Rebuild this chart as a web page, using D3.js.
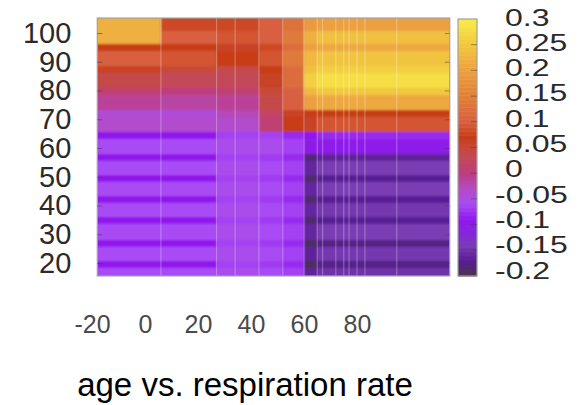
<!DOCTYPE html>
<html>
  <head>
    <script src="https://d3js.org/d3.v7.min.js"></script>
    <style>
      body{ margin: 0; background: #fff; }
      text{ font-family: "Liberation Sans", Arial, Helvetica, sans-serif; }
    </style>
  </head>
  <body>
    <svg id="chart" width=581 height=405></svg>
    <script>
      // axis ticks
      const xTicks = [-20, 0, 20, 40, 60, 80];
      const yTicks = [20, 30, 40, 50, 60, 70, 80, 90, 100];
      const cTicks = [-0.2, -0.15, -0.1, -0.05, 0, 0.05, 0.1, 0.15, 0.2, 0.25, 0.3];
      const cLabels = ["-0.2", "-0.15", "-0.1", "-0.05", "0", "0.05", "0.1", "0.15", "0.2", "0.25", "0.3"];

      // respiration rate column edges, age band edges (top to bottom)
      const rateEdges = [-18, 6, 27, 43, 52, 60, 65, 115];
      const ageEdges = [105.2, 100.7, 96.2, 93.7, 88.5, 86.1, 80.9, 78.4, 73.2, 70.8, 65.6, 63.1,
                        57.9, 55.5, 50.6, 48.2, 43.3, 40.9, 36.0, 33.6, 28.0, 25.6, 20.7, 18.3, 15.5];
      const gridRates = [6, 27, 34, 43, 52, 60, 65, 67, 72, 75, 77, 80, 83, 95];

      // partial dependence values per column, one per age band
      const colA  = [0.22, 0.22, 0.07, 0.1, 0.06, 0.04, 0.01, -0.01, -0.04, -0.035, -0.09, -0.06,
                     -0.09, -0.06, -0.09, -0.06, -0.09, -0.06, -0.09, -0.06, -0.09, -0.06, -0.09, -0.06];
      const colB  = [0.08, 0.1, 0.07, 0.09, 0.05, 0.03, 0.0, -0.015, -0.045, -0.035, -0.09, -0.06,
                     -0.09, -0.06, -0.09, -0.06, -0.09, -0.06, -0.09, -0.06, -0.09, -0.06, -0.09, -0.06];
      const colM1 = [0.08, 0.09, 0.06, 0.07, 0.04, 0.03, 0.01, -0.01, -0.025, -0.035, -0.065, -0.055,
                     -0.065, -0.055, -0.065, -0.055, -0.065, -0.055, -0.065, -0.055, -0.065, -0.055, -0.065, -0.055];
      const colM2 = [0.1, 0.1, 0.08, 0.09, 0.07, 0.06, 0.05, 0.04, 0.02, 0.01, -0.065, -0.055,
                     -0.07, -0.06, -0.07, -0.06, -0.07, -0.06, -0.07, -0.06, -0.07, -0.06, -0.07, -0.06];
      const colM3 = [0.13, 0.14, 0.12, 0.14, 0.12, 0.12, 0.1, 0.1, 0.06, 0.07, -0.08, -0.065,
                     -0.08, -0.065, -0.08, -0.065, -0.08, -0.065, -0.08, -0.065, -0.08, -0.065, -0.08, -0.065];
      const colR0 = [0.19, 0.22, 0.2, 0.23, 0.24, 0.26, 0.23, 0.2, 0.07, 0.06, -0.09, -0.1,
                     -0.18, -0.16, -0.185, -0.16, -0.185, -0.16, -0.185, -0.16, -0.19, -0.165, -0.19, -0.165];
      const colR  = [0.2, 0.24, 0.21, 0.245, 0.26, 0.28, 0.25, 0.21, 0.07, 0.09, -0.08, -0.095,
                     -0.165, -0.14, -0.17, -0.14, -0.17, -0.145, -0.17, -0.14, -0.175, -0.145, -0.175, -0.15];
      const columns = [colA, colB, colM1, colM2, colM3, colR0, colR];

      // palette
      const stopValues = [-0.2, -0.17, -0.14, -0.12, -0.09, -0.06, -0.03, 0, 0.03, 0.05, 0.07, 0.1, 0.15, 0.2, 0.25, 0.3];
      const stopColors = ["#483848", "#581c94", "#7a3cb4", "#8428d8", "#9018ec", "#a84cf4", "#b44cc4", "#be3c80",
                          "#c44858", "#c84838", "#c83c18", "#d86040", "#e08038", "#eca040", "#f2c840", "#f8ec48"];

      const svg = d3.select("#chart");

      const xScale = d3.scaleLinear().domain([-20, 80]).range([92, 357]);
      const yScale = d3.scaleLinear().domain([20, 100]).range([263, 33]);
      const color = d3.scaleLinear().domain(stopValues).range(stopColors)
                      .interpolate(d3.interpolateRgb).clamp(true);

      const plotLeft = xScale(rateEdges[0]), plotRight = xScale(rateEdges[rateEdges.length - 1]);
      const plotTop = yScale(ageEdges[0]), plotBottom = yScale(ageEdges[ageEdges.length - 1]);

      const defs = svg.append("defs");
      defs.append("filter").attr("id", "soft")
        .attr("x", "-5%").attr("y", "-5%").attr("width", "110%").attr("height", "110%")
        .append("feGaussianBlur").attr("stdDeviation", 1.3);
      defs.append("clipPath").attr("id", "plotClip")
        .append("rect").attr("x", plotLeft).attr("y", plotTop)
        .attr("width", plotRight - plotLeft).attr("height", plotBottom - plotTop);
      defs.append("clipPath").attr("id", "labelClip")
        .append("rect").attr("x", 0).attr("y", 8).attr("width", 581).attr("height", 400);

      // heatmap cells
      const cells = [];
      columns.forEach(function(vals, c) {
        vals.forEach(function(v, i) {
          cells.push({ r0: rateEdges[c], r1: rateEdges[c + 1], a0: ageEdges[i], a1: ageEdges[i + 1], v: v,
                       firstC: c === 0, lastC: c === columns.length - 1, firstR: i === 0, lastR: i === vals.length - 1 });
        });
      });

      const pad = 5;
      const heat = svg.append("g").attr("clip-path", "url(#plotClip)")
        .append("g").attr("filter", "url(#soft)");
      heat.selectAll("rect")
        .data(cells)
        .enter()
        .append("rect")
        .attr("x", d => xScale(d.r0) - (d.firstC ? pad : 0))
        .attr("y", d => yScale(d.a0) - (d.firstR ? pad : 0))
        .attr("width", d => xScale(d.r1) - xScale(d.r0) + 0.6 + (d.firstC ? pad : 0) + (d.lastC ? pad : 0))
        .attr("height", d => yScale(d.a1) - yScale(d.a0) + 0.6 + (d.firstR ? pad : 0) + (d.lastR ? pad : 0))
        .attr("fill", d => color(d.v));

      // faint column boundaries
      svg.append("g").attr("clip-path", "url(#plotClip)")
        .selectAll("line")
        .data(gridRates)
        .enter()
        .append("line")
        .attr("x1", d => xScale(d)).attr("x2", d => xScale(d))
        .attr("y1", plotTop).attr("y2", plotBottom)
        .attr("stroke", "#ffffff")
        .attr("stroke-opacity", 0.28)
        .attr("stroke-width", 1.2);

      // frame
      svg.append("rect")
        .attr("x", plotLeft).attr("y", plotTop)
        .attr("width", plotRight - plotLeft).attr("height", plotBottom - plotTop)
        .attr("fill", "none").attr("stroke", "#a0a0a0").attr("stroke-width", 1.2);

      // y axis (ticks point inward)
      const yAxis = svg.append("g")
        .attr("transform", "translate(" + plotLeft + ",0)")
        .call(d3.axisLeft(yScale).tickValues(yTicks).tickSizeInner(-5).tickSizeOuter(0).tickPadding(26).tickFormat(d3.format("d")));
      yAxis.select(".domain").remove();
      yAxis.selectAll("line").attr("stroke", "#444").attr("stroke-opacity", 0.6);
      yAxis.selectAll("text").attr("font-size", 29).attr("fill", "#2a2a2a");

      const yAxisR = svg.append("g")
        .attr("transform", "translate(" + plotRight + ",0)")
        .call(d3.axisRight(yScale).tickValues(yTicks).tickSizeInner(-5).tickSizeOuter(0).tickFormat(""));
      yAxisR.select(".domain").remove();
      yAxisR.selectAll("line").attr("stroke", "#444").attr("stroke-opacity", 0.5);

      // x axis labels
      const xAxis = svg.append("g")
        .attr("transform", "translate(0,315)")
        .call(d3.axisBottom(xScale).tickValues(xTicks).tickSize(0).tickPadding(0).tickFormat(d => String(d)));
      xAxis.select(".domain").remove();
      xAxis.selectAll("text").attr("font-size", 25).attr("fill", "#4a4a4a");

      // colour box
      const cbX = 458, cbW = 19;
      const cbScale = d3.scaleLinear().domain([-0.2, 0.3]).range([276, 19]);
      const cbSteps = d3.range(0, 64).map(i => -0.2 + i * 0.5 / 64);
      svg.append("g").selectAll("rect")
        .data(cbSteps)
        .enter()
        .append("rect")
        .attr("x", cbX)
        .attr("y", d => cbScale(d + 0.5 / 64))
        .attr("width", cbW)
        .attr("height", cbScale(0) - cbScale(0.5 / 64) + 0.5)
        .attr("fill", d => color(d + 0.25 / 64));
      svg.append("rect")
        .attr("x", cbX).attr("y", cbScale(0.3))
        .attr("width", cbW).attr("height", cbScale(-0.2) - cbScale(0.3))
        .attr("fill", "none").attr("stroke", "#a0a0a0").attr("stroke-width", 1.2);
      svg.append("g").selectAll("line")
        .data(cTicks.slice(1, -1))
        .enter()
        .append("line")
        .attr("x1", cbX + cbW - 6).attr("x2", cbX + cbW)
        .attr("y1", d => cbScale(d)).attr("y2", d => cbScale(d))
        .attr("stroke", "#444").attr("stroke-opacity", 0.5);

      // colour box labels, squeezed vertically like the original
      const cbLabelScale = d3.scaleLinear().domain([-0.2, 0.3]).range([270, 17]);
      svg.append("g").attr("clip-path", "url(#labelClip)")
        .selectAll("text")
        .data(cTicks)
        .enter()
        .append("text")
        .attr("transform", (d, i) => "translate(" + (cLabels[i].startsWith("-") ? 495 : 505) + "," + cbLabelScale(d) + ") scale(1,0.74)")
        .attr("dy", "0.36em")
        .attr("font-size", 32)
        .attr("fill", "#2a2a2a")
        .text((d, i) => cLabels[i]);

      // title
      svg.append("text")
        .attr("x", 245).attr("y", 396)
        .attr("text-anchor", "middle")
        .attr("font-size", 33)
        .attr("fill", "#000")
        .text("age vs. respiration rate");
    </script>
  </body>
</html>
